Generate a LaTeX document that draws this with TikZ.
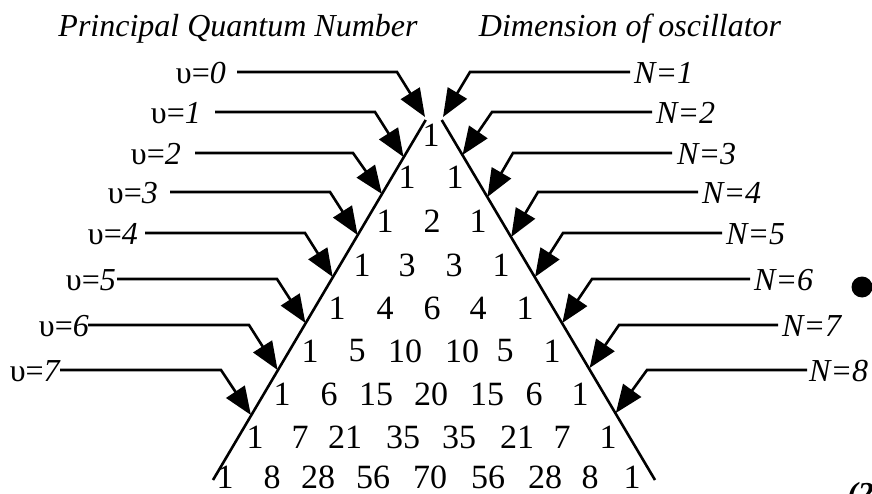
\documentclass[tikz,border=0pt]{standalone}
\usepackage{fontspec}
\setmainfont{Liberation Serif}
\usetikzlibrary{arrows.meta}
\begin{document}
\begin{tikzpicture}[x=1pt,y=-1pt,
  edge/.style={line width=2.6pt},
  arr/.style={line width=2.6pt,-{Triangle[length=28pt,width=22pt]}},
  num/.style={font=\fontsize{34}{36}\selectfont,inner sep=0pt},
  lab/.style={font=\fontsize{32}{34}\selectfont,inner sep=0pt},
  head/.style={font=\fontsize{32}{34}\selectfont\itshape,inner sep=0pt,anchor=base}]
\useasboundingbox (0,0) rectangle (872,494);
\clip (0,0) rectangle (872,494);
% headings
\node[head] (hl) at (238,37) {Principal Quantum Number};
\node[head] (hr) at (630,37) {Dimension of oscillator};
% triangle edges
\coordinate (Ltop) at (425.7,120);
\coordinate (Lbot) at (213,480);
\coordinate (Rtop) at (441.7,120);
\coordinate (Rbot) at (655,480);
\draw[edge] (Ltop) -- (Lbot);
\draw[edge] (Rtop) -- (Rbot);
% left arrows: k / label right edge / y / line start / elbow x / tip x / tip y
\foreach \k/\lx/\y/\sx/\ex/\tx/\ty in {
  0/226/72/237/397/425/117,
  1/201/112/215/375/403.5/157,
  2/181/153/195/353/381.9/194,
  3/158/192/170/330/357.6/235,
  4/138/233/145/305/332.7/277,
  5/116/279/117/277/305.4/323,
  6/89/325/88/249/277.6/370,
  7/61/370/60/221/250.9/415}{
  \node[lab,anchor=east] (v\k) at (\lx,\y+1) {υ=\textit{\k}};
  \coordinate (vs\k) at (\sx,\y);
  \coordinate (ve\k) at (\ex,\y);
  \coordinate (vt\k) at (\tx,\ty);
  \draw[arr] (vs\k) -- (ve\k) -- (vt\k);
}
% right arrows
\foreach \k/\lx/\y/\sx/\ex/\tx/\ty in {
  1/634/72/630/470/443/117,
  2/656/112/652/492/462.5/155,
  3/677/153/672/513/487.4/197,
  4/702/192/698/538/511.2/237,
  5/726/233/722/563/535/277,
  6/754/279/750/592/562.3/323,
  7/782/325/778/619/589.6/368,
  8/809/370/807/647/615.8/413}{
  \node[lab,anchor=west] (n\k) at (\lx,\y+1) {\textit{N=\k}};
  \coordinate (ns\k) at (\sx,\y);
  \coordinate (ne\k) at (\ex,\y);
  \coordinate (nt\k) at (\tx,\ty);
  \draw[arr] (ns\k) -- (ne\k) -- (nt\k);
}
% Pascal's triangle
\node[num] (r0-1) at (431,135) {1};
\foreach \x/\t [count=\i] in {407/1,455/1}
  \node[num] (r1-\i) at (\x,177) {\t};
\foreach \x/\t [count=\i] in {385/1,432/2,478/1}
  \node[num] (r2-\i) at (\x,221) {\t};
\foreach \x/\t [count=\i] in {362/1,407/3,454/3,501/1}
  \node[num] (r3-\i) at (\x,265) {\t};
\foreach \x/\t [count=\i] in {337/1,385/4,432/6,478/4,525/1}
  \node[num] (r4-\i) at (\x,308) {\t};
\foreach \x/\t [count=\i] in {310/1,357/5,405/10,462/10,505/5,552/1}
  \node[num] (r5-\i) at (\x,351) {\t};
\foreach \x/\t [count=\i] in {282/1,329/6,376/15,431/20,487/15,534/6,580/1}
  \node[num] (r6-\i) at (\x,394) {\t};
\foreach \x/\t [count=\i] in {255/1,300/7,345/21,403/35,459/35,517/21,562/7,608/1}
  \node[num] (r7-\i) at (\x,437) {\t};
\foreach \x/\t [count=\i] in {225/1,272/8,318/28,373/56,430/70,488/56,545/28,590/8,632/1}
  \node[num] (r8-\i) at (\x,477.5) {\t};
% stray marks at the right edge
\node[circle,fill,inner sep=0pt,minimum size=21pt] (dot) at (862,287) {};
\node[font=\fontsize{32}{34}\selectfont\bfseries\itshape,anchor=base west,inner sep=0pt] (eq) at (847,504) {(2};
\end{tikzpicture}
\end{document}
